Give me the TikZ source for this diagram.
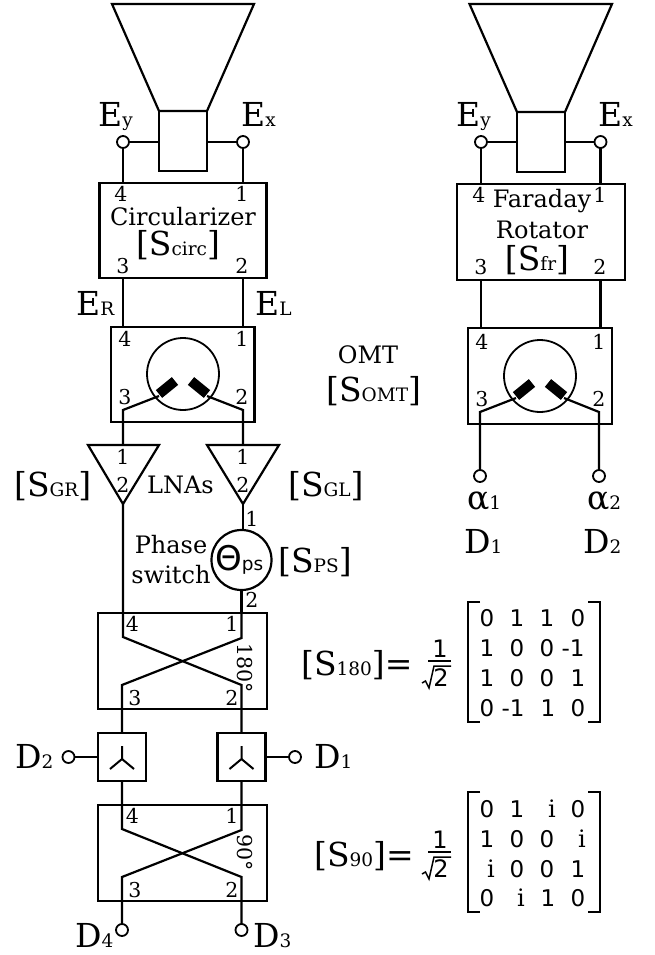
\documentclass[tikz,border=0pt]{standalone}
\usepackage{fontspec}
\setmainfont{DejaVu Serif}
\newfontfamily\sansf{DejaVu Sans}
\newcommand{\fbig}{\fontsize{33}{33}\selectfont}
\newcommand{\fsub}{\fontsize{18.5}{18.5}\selectfont}
\newcommand{\fmid}{\fontsize{24}{26}\selectfont}
\newcommand{\fnum}{\fontsize{20.5}{20.5}\selectfont}
\newcommand{\fmat}{\fontsize{23}{23}\selectfont\sansf}
\newcommand{\ffrac}{\fontsize{24}{24}\selectfont\sansf}
\newcommand{\lbl}[2]{{\fbig #1}{\fsub #2}}
\newcommand{\blbl}[2]{{\fbig [S}{\fsub #1}{\fbig ]#2}}
\tikzset{
  wire/.style={line width=2.2pt,line join=miter},
  blockbox/.style={draw,line width=2.3pt,rectangle,inner sep=0,outer sep=0},
  hornbox/.style={draw,line width=1.9pt,rectangle,inner sep=0,outer sep=0},
  term/.style={draw,circle,fill=white,line width=1.8pt,minimum size=12pt,inner sep=0,outer sep=0},
  omtc/.style={draw,circle,line width=1.8pt,minimum size=72pt,inner sep=0,outer sep=0},
  probe/.style={line width=10pt,line cap=butt},
  num/.style={font=\fnum,inner sep=0},
  txt/.style={anchor=base west,inner sep=0},
  ctxt/.style={anchor=base,inner sep=0},
  mat/.style={font=\fmat,inner sep=0},
  mati/.style={font=\fmid,inner sep=0},
  brk/.style={line width=2pt},
}
\begin{document}
\begin{tikzpicture}[x=1pt,y=-1pt]
\useasboundingbox (0,0) rectangle (655,955);
% ---------- left chain ----------
\draw[wire] (112,4) -- (254,4) -- (207,111) -- (159,111) -- cycle;
\node[hornbox,minimum width=48pt,minimum height=60pt] (hornL) at (183,141) {};
\node[term] (eyL) at (123,142) {};
\node[term] (exL) at (243,142) {};
\draw[wire] (eyL) -- (eyL -| hornL.west);
\draw[wire] (exL) -- (exL -| hornL.east);
\node[blockbox,minimum width=167pt,minimum height=95pt] (circ) at (183,230.5) {};
\draw[wire] (eyL) -- (eyL |- circ.north);
\draw[wire] (exL) -- (exL |- circ.north);
\node[blockbox,minimum width=143.5pt,minimum height=95pt] (omtL) at (182.75,374.5) {};
\draw[wire] (eyL |- circ.south) -- (eyL |- omtL.north);
\draw[wire] (exL |- circ.south) -- (exL |- omtL.north);
\node[omtc] (omtcL) at (183,374) {};
\draw[probe] (159,394) -- (175,381);
\draw[probe] (207,394) -- (191,381);
\draw[wire] (159,396) -- (123,410) coordinate (wl) -- (123,445) coordinate (lnaRtop);
\draw[wire] (207,396) -- (243,410) coordinate (wr) -- (243,445) coordinate (lnaLtop);
\draw[wire] (88,445) -- (159,445) -- (123,504) coordinate (lnaRtip) -- cycle;
\draw[wire] (207,445) -- (279,445) -- (243,504) coordinate (lnaLtip) -- cycle;
\node[draw,circle,line width=2.2pt,minimum size=60pt,inner sep=0,outer sep=0] (ps) at (241.5,560) {};
\draw[wire] (lnaLtip) -- (lnaLtip |- ps.north);
\node[blockbox,minimum width=169pt,minimum height=96.5pt] (h180) at (182.5,661) {};
\draw[wire] (ps.south) -- (ps.south |- h180.north);
\coordinate (a4) at (123,612);
\coordinate (a1) at (241.5,612);
\node[blockbox,minimum width=48pt,minimum height=48pt] (spL) at (122,757) {};
\node[blockbox,minimum width=48pt,minimum height=48pt] (spR) at (241.5,757) {};
\draw[wire] (lnaRtip) -- (a4) -- (123,637) -- (241.5,685) -- (spR.north);
\draw[wire] (a1) -- (241.5,638) -- (122,685) -- (spL.north);
\foreach \b in {spL,spR} {
  \draw[line width=2pt] (\b.center) ++(0,-11) -- ++(0,13) coordinate (m\b) -- ++(-12,10);
  \draw[line width=2pt] (m\b) -- ++(12,10);
}
\node[term] (tD2) at (68.5,757) {};
\node[term] (tD1) at (295,757) {};
\draw[wire] (tD2) -- (spL.west);
\draw[wire] (tD1) -- (spR.east);
\node[blockbox,minimum width=169pt,minimum height=96.5pt] (h90) at (182.5,853) {};
\node[term] (tD4) at (122,930) {};
\node[term] (tD3) at (241.5,930) {};
\draw[wire] (spL.south) -- (122,829) -- (241.5,877) -- (tD3);
\draw[wire] (spR.south) -- (241.5,830) -- (122,877) -- (tD4);
% labels left
\node[txt] (l1) at (98,126) {\lbl{E}{y}};
\node[txt] (l2) at (241,126) {\lbl{E}{x}};
\node[num] (n1) at (121,194) {4};
\node[num] (n2) at (242,194) {1};
\node[num] (n3) at (123,266) {3};
\node[num] (n4) at (242,266) {2};
\node[ctxt,font=\fmid] (l3) at (183,225) {Circularizer};
\node[ctxt] (l4) at (178,255) {\blbl{circ}{}};
\node[txt] (l5) at (76,315) {\lbl{E}{R}};
\node[txt] (l6) at (255,315) {\lbl{E}{L}};
\node[num] (n5) at (125,339) {4};
\node[num] (n6) at (242,339) {1};
\node[num] (n7) at (125,397) {3};
\node[num] (n8) at (242,397) {2};
\node[num] (n9) at (123,457) {1};
\node[num] (n10) at (243,457) {1};
\node[num] (n11) at (123,485) {2};
\node[num] (n12) at (243,485) {2};
\node[txt] (l7) at (14,496) {\blbl{GR}{}};
\node[txt] (l8) at (288,496) {\blbl{GL}{}};
\node[txt,font=\fmid] (l9) at (147,493) {LNAs};
\node[num] (n13) at (252,519) {1};
\node[num] (n14) at (252,600) {2};
\node[ctxt,font=\fmid] (l10) at (171,553) {Phase};
\node[ctxt,font=\fmid] (l11) at (171,583) {switch};
\node[txt] (l12) at (215,570) {{\fontsize{34}{34}\selectfont\sansf Θ}{\fsub\sansf ps}};
\node[txt] (l13) at (278,572) {\blbl{PS}{}};
\node[num] (n15) at (132.5,624) {4};
\node[num] (n16) at (232,624) {1};
\node[num] (n17) at (135,698) {3};
\node[num] (n18) at (232,698) {2};
\node[num,rotate=-90] (l14) at (245,668) {180°};
\node[txt] (l15) at (15,768) {\lbl{D}{2}};
\node[txt] (l16) at (314,768) {\lbl{D}{1}};
\node[num] (n19) at (132.5,816) {4};
\node[num] (n20) at (232,816) {1};
\node[num] (n21) at (135,890) {3};
\node[num] (n22) at (232,890) {2};
\node[num,rotate=-90] (l17) at (245,853) {90°};
\node[txt] (l18) at (75,947) {\lbl{D}{4}};
\node[txt] (l19) at (253,947) {\lbl{D}{3}};
\node[ctxt,font=\fmid] (l20) at (368,363) {OMT};
\node[txt] (l21) at (326,401) {\blbl{OMT}{}};
% ---------- right chain ----------
\draw[wire] (469.5,4) -- (612,4) -- (565,112) -- (517,112) -- cycle;
\node[hornbox,minimum width=48pt,minimum height=60pt] (hornR) at (541,142) {};
\node[term] (eyR) at (481,142) {};
\node[term] (exR) at (600.5,142) {};
\draw[wire] (eyR) -- (eyR -| hornR.west);
\draw[wire] (exR) -- (exR -| hornR.east);
\node[blockbox,minimum width=167.5pt,minimum height=95.5pt] (far) at (541,232) {};
\draw[wire] (eyR) -- (eyR |- far.north);
\draw[wire] (exR) -- (exR |- far.north);
\node[blockbox,minimum width=144pt,minimum height=96pt] (omtR) at (540,376) {};
\draw[wire] (eyR |- far.south) -- (eyR |- omtR.north);
\draw[wire] (exR |- far.south) -- (exR |- omtR.north);
\node[omtc] (omtcR) at (540,376) {};
\draw[probe] (516,396) -- (532,383);
\draw[probe] (564,396) -- (548,383);
\node[term] (a1t) at (480,476) {};
\node[term] (a2t) at (599,476) {};
\draw[wire] (516,398) -- (480,412) -- (a1t);
\draw[wire] (564,398) -- (599,412) -- (a2t);
\node[txt] (r1) at (456,127) {\lbl{E}{y}};
\node[txt] (r2) at (598,127) {\lbl{E}{x}};
\node[num] (r3) at (479,195) {4};
\node[num] (r4) at (600,195) {1};
\node[num] (r5) at (481,267) {3};
\node[num] (r6) at (600,267) {2};
\node[ctxt,font=\fmid] (r7) at (542,207.5) {Faraday};
\node[ctxt,font=\fmid] (r8) at (542,238) {Rotator};
\node[ctxt] (r9) at (537,270) {\blbl{fr}{}};
\node[num] (r10) at (482,342) {4};
\node[num] (r11) at (599,342) {1};
\node[num] (r12) at (482,399) {3};
\node[num] (r13) at (599,399) {2};
\node[txt] (r14) at (467,509) {\lbl{α}{1}};
\node[txt] (r15) at (587,509) {\lbl{α}{2}};
\node[txt] (r16) at (464,553) {\lbl{D}{1}};
\node[txt] (r17) at (583,553) {\lbl{D}{2}};
% ---------- S180 matrix ----------
\node[txt] (m1) at (301,675) {\blbl{180}{=}};
\node[mat,font=\ffrac] (f1) at (440,649) {1};
\draw[line width=2.2pt] (428,661) -- (451,661);
\draw[line width=1.5pt] (422,683) -- (425.5,681) -- (429,688) -- (434,666) -- (451,666);
\node[mat,font=\ffrac] (f2) at (441,678) {2};
\draw[brk] (480,602) -- (468,602) -- (468,722) -- (480,722);
\draw[brk] (588,602) -- (600,602) -- (600,722) -- (588,722);
\node[mat] at (487,618) {0}; \node[mat] at (517,618) {1}; \node[mat] at (547,618) {1}; \node[mat] at (578,618) {0};
\node[mat] at (487,648) {1}; \node[mat] at (517,648) {0}; \node[mat] at (547,648) {0}; \node[mat] at (573,648) {-1};
\node[mat] at (487,678) {1}; \node[mat] at (517,678) {0}; \node[mat] at (547,678) {0}; \node[mat] at (578,678) {1};
\node[mat] at (487,708) {0}; \node[mat] at (513,708) {-1}; \node[mat] at (548,708) {1}; \node[mat] at (578,708) {0};
% ---------- S90 matrix ----------
\node[txt] (m2) at (314,866) {\blbl{90}{=}};
\node[mat,font=\ffrac] (f3) at (440,840) {1};
\draw[line width=2.2pt] (428,852) -- (451,852);
\draw[line width=1.5pt] (422,874) -- (425.5,872) -- (429,879) -- (434,857) -- (451,857);
\node[mat,font=\ffrac] (f4) at (441,869) {2};
\draw[brk] (480,792) -- (468,792) -- (468,912) -- (480,912);
\draw[brk] (588,792) -- (600,792) -- (600,912) -- (588,912);
\node[mat] at (487,809) {0}; \node[mat] at (517,809) {1}; \node[mati] at (552,809) {i}; \node[mat] at (578,809) {0};
\node[mat] at (487,839) {1}; \node[mat] at (517,839) {0}; \node[mat] at (547,839) {0}; \node[mati] at (582,839) {i};
\node[mati] at (491,869) {i}; \node[mat] at (517,869) {0}; \node[mat] at (547,869) {0}; \node[mat] at (578,869) {1};
\node[mat] at (487,898) {0}; \node[mati] at (521,898) {i}; \node[mat] at (548,898) {1}; \node[mat] at (578,898) {0};
\end{tikzpicture}
\end{document}
